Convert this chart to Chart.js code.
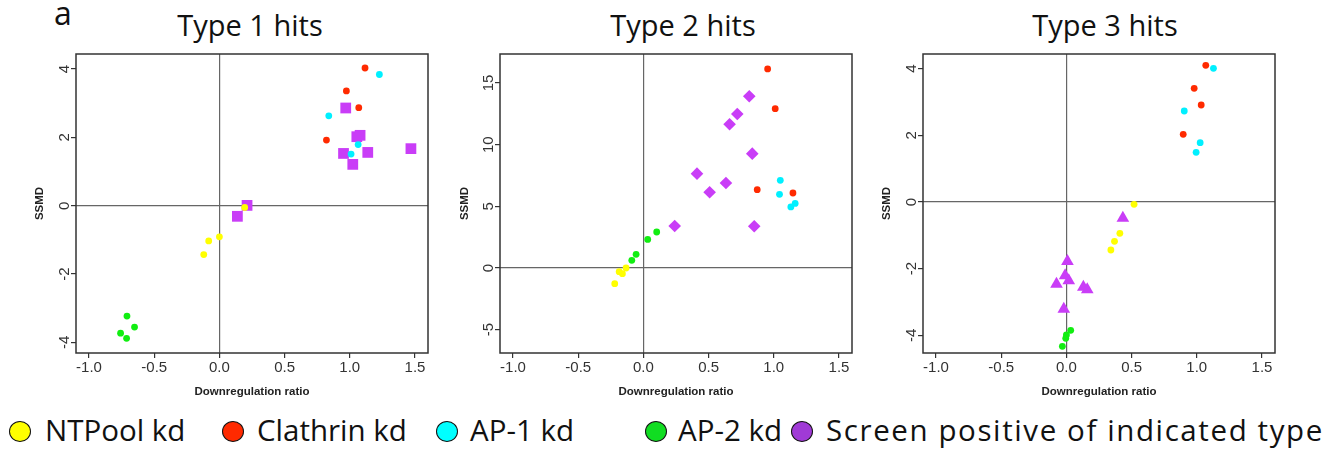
<!DOCTYPE html>
<html>
<head>
<meta charset="utf-8">
<script src="https://cdn.jsdelivr.net/npm/chart.js@4/dist/chart.umd.min.js"></script>
<style>
    body { margin: 0; background: #fff; width: 1332px; height: 450px; overflow: hidden; position: relative; font-family: 'Open Sans', sans-serif; color: #111; }
    canvas { position: absolute; top: 0; }
    .ttl { position: absolute; top: 10px; width: 300px; font-size: 29px; line-height: 1; text-align: center; }
    .tag { position: absolute; left: 54px; top: -3px; font-size: 32px; line-height: 1; }
    .dot { position: absolute; top: 421px; width: 22px; height: 21px; box-sizing: border-box; border: 1.5px solid #111; border-radius: 50%; }
    .lab { position: absolute; top: 415px; font-size: 29.5px; line-height: 1; white-space: nowrap; }
</style>
</head>
<body>
<div class="tag">a</div>
<div class="ttl" style="left:100px">Type 1 hits</div>
<div class="ttl" style="left:533px">Type 2 hits</div>
<div class="ttl" style="left:955px">Type 3 hits</div>

<canvas id="c1" width="440" height="400" style="left:0px"></canvas>
<canvas id="c2" width="424" height="400" style="left:440px"></canvas>
<canvas id="c3" width="452" height="400" style="left:880px"></canvas>

<span class="dot" style="left:9px;background:#ffff00"></span><div class="lab" style="left:45px">NTPool kd</div>
<span class="dot" style="left:222px;background:#ff2a00"></span><div class="lab" style="left:257px">Clathrin kd</div>
<span class="dot" style="left:436px;background:#00ffff"></span><div class="lab" style="left:470px">AP-1 kd</div>
<span class="dot" style="left:645px;background:#11dd22"></span><div class="lab" style="left:678px">AP-2 kd</div>
<span class="dot" style="left:791px;background:#a03ad6"></span><div class="lab" style="left:826px;letter-spacing:1.6px">Screen positive of indicated type</div>

<script>
// [downregulation ratio, SSMD]
const type1NTPool   = [[0.194, -0.05], [0.0, -0.91], [-0.082, -1.03], [-0.12, -1.43]];
const type1Clathrin = [[1.117, 4.03], [0.974, 3.36], [1.069, 2.87], [0.821, 1.92]];
const type1AP1      = [[1.227, 3.84], [0.839, 2.63], [1.064, 1.79], [1.010, 1.51]];
const type1AP2      = [[-0.709, -3.23], [-0.651, -3.55], [-0.758, -3.73], [-0.712, -3.88]];
const type1Hits     = [[0.969, 2.86], [1.054, 2.02], [1.079, 2.06], [0.952, 1.53], [1.138, 1.56],
                       [1.469, 1.67], [1.023, 1.21], [0.212, 0.01], [0.138, -0.31]];

const type2NTPool   = [[-0.133, 0.0], [-0.186, -0.30], [-0.161, -0.46], [-0.220, -1.27]];
const type2Clathrin = [[0.953, 16.14], [1.011, 12.92], [0.873, 6.35], [1.147, 6.08]];
const type2AP1      = [[1.050, 7.11], [1.044, 5.97], [1.164, 5.24], [1.131, 4.95]];
const type2AP2      = [[0.102, 2.92], [0.033, 2.32], [-0.056, 1.11], [-0.089, 0.62]];
const type2Hits     = [[0.812, 13.92], [0.720, 12.49], [0.661, 11.65], [0.835, 9.27], [0.411, 7.65],
                       [0.633, 6.89], [0.508, 6.14], [0.240, 3.41], [0.850, 3.38]];

const type3NTPool   = [[0.519, -0.07], [0.410, -0.94], [0.369, -1.18], [0.341, -1.44]];
const type3Clathrin = [[1.069, 4.10], [0.980, 3.41], [1.034, 2.91], [0.896, 2.03]];
const type3AP1      = [[1.128, 4.01], [0.904, 2.73], [1.026, 1.78], [0.995, 1.49]];
const type3AP2      = [[0.033, -3.85], [0.0, -3.99], [-0.005, -4.09], [-0.031, -4.33]];
const type3Hits     = [[0.433, -0.48], [0.008, -1.78], [-0.010, -2.21], [0.018, -2.36], [-0.076, -2.46],
                       [0.130, -2.55], [0.160, -2.63], [-0.020, -3.21]];

const xRange = [-1.1, 1.6];
const yRanges = [[-4.31, 4.44], [-6.89, 17.35], [-4.53, 4.44]];
const yStepSizes = [2, 5, 2];

const TICK_FONT = '"Liberation Sans", Arial, sans-serif';

// R-style box and rotated y tick labels
const framePlugin = {
    id: 'frame',
    afterDraw(chart) {
        const { ctx, chartArea: a } = chart;
        const y = chart.scales.y;
        ctx.save();
        ctx.strokeStyle = '#333';
        ctx.lineWidth = 1.5;
        ctx.strokeRect(a.left, a.top, a.right - a.left, a.bottom - a.top);
        ctx.font = '15px ' + TICK_FONT;
        ctx.fillStyle = '#333';
        ctx.textAlign = 'center';
        ctx.textBaseline = 'middle';
        y.ticks.forEach(t => {
            ctx.save();
            ctx.translate(a.left - 11.5, y.getPixelForValue(t.value));
            ctx.rotate(-Math.PI / 2);
            ctx.fillText(String(t.value), 0, 0);
            ctx.restore();
        });
        ctx.restore();
    }
};

function pts(arr) {
    return arr.map(([x, y]) => ({ x, y }));
}

function dot(data, color) {
    return { data: pts(data), backgroundColor: color, borderWidth: 0, pointRadius: 3.4, pointStyle: 'circle' };
}

function zeroGrid(c) {
    return c.tick && c.tick.value === 0 ? '#666' : 'rgba(0,0,0,0)';
}

function makeChart(id, series, hits, hitStyle, hitRadius, panel, yAxisWidth, titlePad, padRight) {
    const [ntp, cla, ap1, ap2] = series;
    new Chart(document.getElementById(id), {
        type: 'scatter',
        data: {
            datasets: [
                dot(ntp, '#ffff00'),
                dot(cla, '#ff2a00'),
                dot(ap1, '#00f0ff'),
                dot(ap2, '#11ee11'),
                { data: pts(hits), backgroundColor: '#c93df7', borderWidth: 0, pointRadius: hitRadius, pointStyle: hitStyle }
            ]
        },
        options: {
            responsive: false,
            animation: false,
            devicePixelRatio: 1,
            layout: { padding: { top: 54, right: padRight, bottom: 0, left: 0 } },
            plugins: { legend: { display: false }, tooltip: { enabled: false } },
            scales: {
                x: {
                    type: 'linear',
                    min: xRange[0],
                    max: xRange[1],
                    ticks: {
                        stepSize: 0.5,
                        includeBounds: false,
                        padding: 1,
                        color: '#333',
                        font: { family: TICK_FONT, size: 15 },
                        callback: v => v.toFixed(1)
                    },
                    grid: { color: zeroGrid, lineWidth: 1.2, tickColor: '#333', tickLength: 5 },
                    border: { display: false },
                    title: {
                        display: true,
                        text: 'Downregulation ratio',
                        color: '#222',
                        font: { family: TICK_FONT, size: 11.5, weight: 'bold' },
                        padding: { top: 0, bottom: 1 }
                    },
                    afterFit: s => { s.height = 47; }
                },
                y: {
                    type: 'linear',
                    min: yRanges[panel][0],
                    max: yRanges[panel][1],
                    ticks: { stepSize: yStepSizes[panel], includeBounds: false, display: false },
                    grid: { color: zeroGrid, lineWidth: 1.2, tickColor: '#333', tickLength: 5 },
                    border: { display: false },
                    title: {
                        display: true,
                        text: 'SSMD',
                        color: '#222',
                        font: { family: TICK_FONT, size: 11.5, weight: 'bold' },
                        padding: { top: titlePad, bottom: 0 }
                    },
                    afterFit: s => { s.width = yAxisWidth; }
                }
            }
        },
        plugins: [framePlugin]
    });
}

makeChart('c1', [type1NTPool, type1Clathrin, type1AP1, type1AP2], type1Hits, 'rect', 7.6, 0, 76, 33, 12);
makeChart('c2', [type2NTPool, type2Clathrin, type2AP1, type2AP2], type2Hits, 'rectRot', 6.3, 1, 60, 18, 12);
makeChart('c3', [type3NTPool, type3Clathrin, type3AP1, type3AP2], type3Hits, 'triangle', 7.3, 2, 43, 0, 57);
</script>
</body>
</html>
